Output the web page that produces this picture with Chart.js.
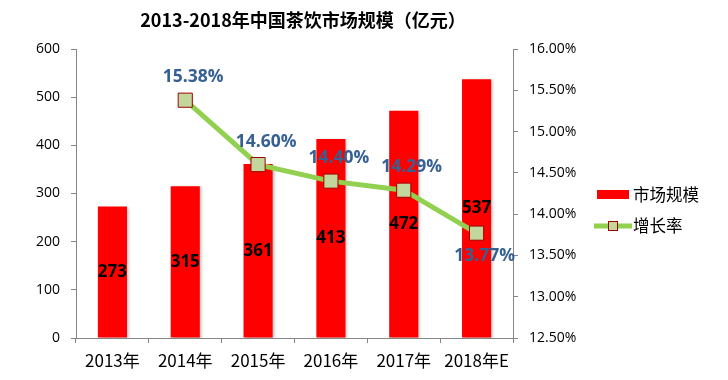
<!DOCTYPE html>
<html><head><meta charset="utf-8">
<script src="https://cdn.jsdelivr.net/npm/chart.js@4.4.0/dist/chart.umd.min.js"></script>
<style>html,body{margin:0;padding:0;background:#fff}#wrap{width:728px;height:380px}</style>
</head><body><div id="wrap"><canvas id="c" width="728" height="380"></canvas></div>
<script>
const categories = ['2013年', '2014年', '2015年', '2016年', '2017年', '2018年E'];
const marketSize = [273, 315, 361, 413, 472, 537];
const growthRate = [null, 15.38, 14.60, 14.40, 14.29, 13.77];
const seriesNames = ['市场规模', '增长率'];
const titleText = '2013-2018年中国茶饮市场规模（亿元）';

const CJK = '"Noto Sans CJK SC", "Open Sans", sans-serif';
const NUM = '"Open Sans", "Noto Sans", sans-serif';
const AXIS = '#868686';
const BAR = '#FF0000';
const LINE = '#92D050';
const MARK_FILL = '#C3D69B';
const MARK_EDGE = '#A00000';
const LBL_BLUE = '#376092';

const decor = {
  id: 'decor',
  beforeDatasetDraw(chart, args) {
    if (args.index === 0) {
      const ctx = chart.ctx;
      ctx.save();
      ctx.shadowColor = 'rgba(0,0,0,0.25)';
      ctx.shadowOffsetX = 2; ctx.shadowOffsetY = 1; ctx.shadowBlur = 3;
    }
  },
  afterDatasetDraw(chart, args) {
    if (args.index === 0) chart.ctx.restore();
  },
  afterDatasetsDraw(chart) {
    const ctx = chart.ctx;
    ctx.save();
    ctx.textAlign = 'center';
    ctx.textBaseline = 'middle';
    const m0 = chart.getDatasetMeta(0);
    ctx.font = 'bold 17px ' + NUM;
    ctx.fillStyle = '#000';
    m0.data.forEach((el, i) => {
      ctx.fillText(String(marketSize[i]), el.x, (el.y + el.base) / 2);
    });
    const m1 = chart.getDatasetMeta(1);
    ctx.font = 'bold 17.5px ' + NUM;
    ctx.fillStyle = LBL_BLUE;
    const last = growthRate.length - 1;
    m1.data.forEach((el, i) => {
      const v = growthRate[i];
      if (v === null) return;
      const dy = i === last ? 23 : -23;
      ctx.fillText(v.toFixed(2) + '%', el.x + 8, el.y + dy);
    });
    ctx.restore();
  },
  afterDraw(chart) {
    const ctx = chart.ctx;
    ctx.save();
    ctx.font = 'bold 18px ' + CJK;
    ctx.fillStyle = '#000';
    ctx.textAlign = 'center';
    ctx.textBaseline = 'middle';
    ctx.fillText(titleText, 303, 20);
    ctx.textAlign = 'left';
    ctx.font = '16.5px ' + CJK;
    ctx.fillStyle = BAR;
    ctx.fillRect(597, 190, 32, 9);
    ctx.fillStyle = '#000';
    ctx.fillText(seriesNames[0], 633, 195);
    ctx.strokeStyle = LINE;
    ctx.lineWidth = 5;
    ctx.beginPath(); ctx.moveTo(594, 226); ctx.lineTo(632, 226); ctx.stroke();
    ctx.fillStyle = MARK_FILL;
    ctx.fillRect(608.5, 221.5, 9, 9);
    ctx.strokeStyle = MARK_EDGE;
    ctx.lineWidth = 1;
    ctx.strokeRect(608.5, 221.5, 9, 9);
    ctx.fillStyle = '#000';
    ctx.fillText(seriesNames[1], 633, 226);
    ctx.restore();
  }
};

new Chart(document.getElementById('c'), {
  type: 'bar',
  data: {
    labels: categories,
    datasets: [
      {
        type: 'bar', label: seriesNames[0], data: marketSize, yAxisID: 'y',
        backgroundColor: BAR, barPercentage: 0.4, categoryPercentage: 1.0, order: 1
      },
      {
        type: 'line', label: seriesNames[1], data: growthRate, yAxisID: 'y1',
        borderColor: LINE, borderWidth: 5, tension: 0,
        pointStyle: 'rect', pointRadius: 10, pointHoverRadius: 10,
        pointBackgroundColor: MARK_FILL, pointBorderColor: MARK_EDGE, pointBorderWidth: 1,
        order: 0
      }
    ]
  },
  options: {
    responsive: false, animation: false, devicePixelRatio: 1,
    layout: { padding: { top: 49, left: 0, right: 0, bottom: 0 } },
    plugins: { legend: { display: false }, tooltip: { enabled: false }, title: { display: false } },
    scales: {
      x: {
        grid: { display: true, drawOnChartArea: false, drawTicks: true, tickLength: 5, color: AXIS, offset: true },
        border: { color: AXIS },
        ticks: { font: { family: CJK, size: 17 }, color: '#000', padding: 7, maxRotation: 0 },
        afterFit(s) { s.height = 42; }
      },
      y: {
        position: 'left', min: 0, max: 600,
        grid: { display: true, drawOnChartArea: false, tickLength: 5, color: AXIS },
        border: { color: AXIS },
        ticks: { stepSize: 100, font: { family: NUM, size: 14 }, color: '#000', padding: 11 },
        afterFit(s) { s.width = 76; }
      },
      y1: {
        position: 'right', min: 12.5, max: 16,
        grid: { display: true, drawOnChartArea: false, tickLength: 5, color: AXIS },
        border: { color: AXIS },
        ticks: { stepSize: 0.5, font: { family: NUM, size: 14 }, color: '#000', padding: 11,
          callback: v => Number(v).toFixed(2) + '%' },
        afterFit(s) { s.width = 215; }
      }
    }
  },
  plugins: [decor]
});
</script>
</body></html>
